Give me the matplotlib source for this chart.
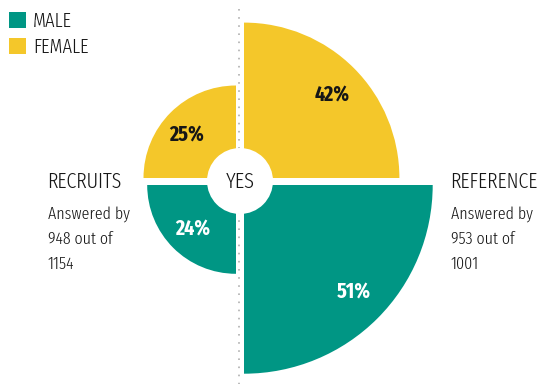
import matplotlib
matplotlib.use("Agg")
import matplotlib.pyplot as plt
from matplotlib.patches import Wedge, Circle, Rectangle

# ---- data ----
groups = ["RECRUITS", "REFERENCE"]
male_pct = [24, 51]
female_pct = [25, 42]
answered = [948, 953]
totals = [1154, 1001]
legend_labels = ["MALE", "FEMALE"]
center_label = "YES"

TEAL = "#009684"
YELLOW = "#F4C72A"
INK = "#161616"
FONT = ["Fira Sans Extra Condensed", "DejaVu Sans"]
LW = 300  # label weight

W, H = 539, 388
fig = plt.figure(figsize=(W / 100, H / 100), dpi=100)
ax = fig.add_axes([0, 0, 1, 1])
ax.set_xlim(0, W)
ax.set_ylim(H, 0)
ax.axis("off")

cx, cy = 240, 181.5
gx, gy = 4, 3.5
scale = 3.7  # px per percent

# dotted centre line
ax.plot([239, 239], [9, 384], color="#b5b5b5", lw=1.3, dashes=(0.9, 3.6), zorder=1)

specs = [
    (-1, -1, female_pct[0], YELLOW, 180, 270, (0.53, 0.46)),
    (-1, 1, male_pct[0], TEAL, 90, 180, (0.49, 0.50)),
    (1, -1, female_pct[1], YELLOW, 270, 360, (0.565, 0.53)),
    (1, 1, male_pct[1], TEAL, 0, 90, (0.58, 0.57)),
]
for sx, sy, v, col, t1, t2, (fx, fy) in specs:
    ox, oy = cx + sx * gx, cy + sy * gy
    r = v * scale
    ax.add_patch(Wedge((ox, oy), r, t1, t2, facecolor=col, edgecolor="none", zorder=2))
    tc = "white" if col == TEAL else INK
    ax.text(ox + sx * r * fx, oy + sy * r * fy, f"{v}%", color=tc, fontsize=15.5,
            fontweight="bold", family=FONT, ha="center", va="center", zorder=4)

ax.add_patch(Circle((240, 181), 33, facecolor="white", edgecolor="none", zorder=3))
ax.text(240, 182, center_label, fontsize=16, family=FONT, fontweight=LW,
        ha="center", va="center", color=INK, zorder=4)

pos = [47, 450]
for x, g, a, t in zip(pos, groups, answered, totals):
    ax.text(x, 181.5, g, fontsize=15.5, family=FONT, fontweight=LW,
            ha="left", va="center", color=INK)
    for k, s in enumerate(["Answered by", f"{a} out of", f"{t}"]):
        ax.text(x + 1, 214 + k * 25, s, fontsize=12.5, family=FONT, fontweight=LW,
                ha="left", va="center", color=INK)

for i, (lab, col) in enumerate(zip(legend_labels, [TEAL, YELLOW])):
    y0 = 12 + i * 26
    ax.add_patch(Rectangle((9, y0), 17, 16, facecolor=col, edgecolor="none"))
    ax.text(33, y0 + 9, lab, fontsize=14.5, family=FONT, fontweight=LW,
            ha="left", va="center", color=INK)

fig.savefig("out.png", dpi=100)
